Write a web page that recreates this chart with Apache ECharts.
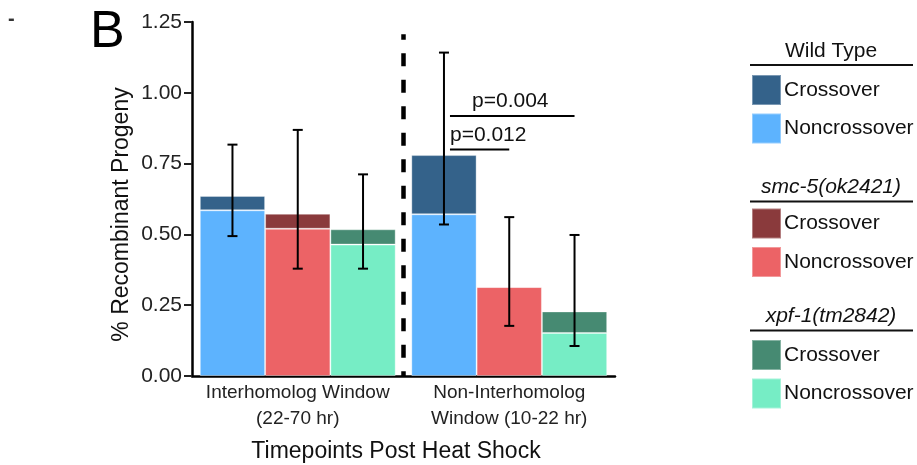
<!DOCTYPE html>
<html>
<head>
<meta charset="utf-8">
<script src="https://cdn.jsdelivr.net/npm/echarts@6/dist/echarts.min.js"></script>
<style>
  html, body { margin: 0; padding: 0; background: #fff; }
  #chart { width: 917px; height: 465px; }
</style>
</head>
<body>
<div id="chart"></div>
<script>
// Time windows after heat shock
const categories = ['Interhomolog Window\n(22-70 hr)', 'Non-Interhomolog\nWindow (10-22 hr)'];
const genotypes = ['Wild Type', 'smc-5(ok2421)', 'xpf-1(tm2842)'];

// Recombinant progeny fractions (stacked: noncrossover below, crossover on top)
const wtNoncrossover  = [0.585, 0.571];
const wtCrossover     = [0.051, 0.209];
const smcNoncrossover = [0.520, 0.314];
const smcCrossover    = [0.053, 0.000];
const xpfNoncrossover = [0.464, 0.152];
const xpfCrossover    = [0.054, 0.076];

// Confidence intervals on the total recombinant fraction
const wtErrLow   = [0.494, 0.535];
const wtErrHigh  = [0.817, 1.142];
const smcErrLow  = [0.379, 0.177];
const smcErrHigh = [0.869, 0.561];
const xpfErrLow  = [0.379, 0.106];
const xpfErrHigh = [0.712, 0.498];

// Y axis range and tick step
const yMin = 0, yMax = 1.25, yStep = 0.25;

// Significance brackets in the non-interhomolog window
const pLabels  = ['p=0.004', 'p=0.012'];
const pLevels  = [0.918, 0.800];
const pFromBar = [0, 0];
const pToBar   = [2, 1];
const pCategory = 1;

// Colours per genotype: [crossover, noncrossover]
const palette = [
  ['#34628a', '#5db3fe'],
  ['#8a3a3c', '#ec6366'],
  ['#468a72', '#76edc5']
];

const FONT = 'Liberation Sans, Arial, sans-serif';
const GAP = 0.074;           // barCategoryGap as a fraction
const DIVIDER_TOP = 1.207;   // top of dashed separator, in axis units

const chart = echarts.init(document.getElementById('chart'), null, { renderer: 'canvas' });

const nco = [wtNoncrossover, smcNoncrossover, xpfNoncrossover];
const co  = [wtCrossover, smcCrossover, xpfCrossover];
const errLo = [wtErrLow, smcErrLow, xpfErrLow];
const errHi = [wtErrHigh, smcErrHigh, xpfErrHigh];

const barSeries = [];
genotypes.forEach((g, k) => {
  barSeries.push({
    name: g + ' Noncrossover', type: 'bar', stack: 'g' + k,
    data: nco[k], barGap: '0%', barCategoryGap: (GAP * 100) + '%',
    itemStyle: { color: palette[k][1], borderColor: 'rgba(255,255,255,0.35)', borderWidth: 1 },
    z: 2
  });
  barSeries.push({
    name: g + ' Crossover', type: 'bar', stack: 'g' + k,
    data: co[k], barGap: '0%', barCategoryGap: (GAP * 100) + '%',
    itemStyle: { color: palette[k][0], borderColor: 'rgba(255,255,255,0.35)', borderWidth: 1 },
    z: 2
  });
});

function barCenterX(api, cat, slot) {
  const c = api.coord([cat, 0]);
  const band = api.size([1, 0])[0];
  const barW = band * (1 - GAP) / genotypes.length;
  return c[0] + (slot - (genotypes.length - 1) / 2) * barW;
}

const errorData = [];
genotypes.forEach((g, k) => {
  categories.forEach((c, i) => errorData.push([i, errLo[k][i], errHi[k][i], k]));
});

const errorSeries = {
  type: 'custom', name: 'errors', z: 5,
  data: errorData,
  encode: { x: 0, y: [1, 2] },
  renderItem: function (params, api) {
    const cat = api.value(0), slot = api.value(3);
    const x = barCenterX(api, cat, slot);
    const yLo = api.coord([cat, api.value(1)])[1];
    const yHi = api.coord([cat, api.value(2)])[1];
    const cap = 5;
    const st = { stroke: '#000', lineWidth: 2 };
    return {
      type: 'group',
      children: [
        { type: 'line', shape: { x1: x, y1: yLo, x2: x, y2: yHi }, style: st },
        { type: 'line', shape: { x1: x - cap, y1: yHi, x2: x + cap, y2: yHi }, style: st },
        { type: 'line', shape: { x1: x - cap, y1: yLo, x2: x + cap, y2: yLo }, style: st }
      ]
    };
  }
};

const dividerSeries = {
  type: 'custom', name: 'divider', z: 4,
  data: [[0, 0]],
  renderItem: function (params, api) {
    const a = api.coord([0, 0]);
    const b = api.coord([1, 0]);
    const x = (a[0] + b[0]) / 2;
    const top = api.coord([0, DIVIDER_TOP])[1];
    return {
      type: 'line',
      shape: { x1: x, y1: top, x2: x, y2: a[1] },
      style: { stroke: '#000', lineWidth: 4.5, lineDash: [13, 13.5], lineDashOffset: 7.5 }
    };
  }
};

const bracketData = pLabels.map((t, i) => [pCategory, pLevels[i], pFromBar[i], pToBar[i], i]);
const bracketSeries = {
  type: 'custom', name: 'brackets', z: 6,
  data: bracketData,
  encode: { x: 0, y: 1 },
  renderItem: function (params, api) {
    const cat = api.value(0), idx = api.value(4);
    const y = api.coord([cat, api.value(1)])[1];
    const x1 = barCenterX(api, cat, api.value(2)) + 6;
    const x2 = barCenterX(api, cat, api.value(3));
    const centered = idx === 0;
    return {
      type: 'group',
      children: [
        { type: 'line', shape: { x1: x1, y1: y, x2: x2, y2: y }, style: { stroke: '#000', lineWidth: 2 } },
        {
          type: 'text',
          x: centered ? (x1 + x2) / 2 - 2 : x1,
          y: y - 4,
          style: {
            text: pLabels[idx], fill: '#111', font: '21px ' + FONT,
            textAlign: centered ? 'center' : 'left', textVerticalAlign: 'bottom'
          }
        }
      ]
    };
  }
};

function legendFor(k, top) {
  return {
    orient: 'vertical', left: 751, top: top, padding: 0,
    itemWidth: 29, itemHeight: 30, itemGap: 6.5, icon: 'rect',
    selectedMode: false,
    data: [genotypes[k] + ' Crossover', genotypes[k] + ' Noncrossover'],
    formatter: function (n) { return n.slice(genotypes[k].length + 1); },
    textStyle: { fontSize: 21, fontFamily: FONT, color: '#111', padding: [0, 0, 0, -2] }
  };
}

function legendTitle(text, y, italic) {
  return [
    {
      type: 'text', x: 831, y: y,
      style: {
        text: text, fill: '#111', textAlign: 'center', textVerticalAlign: 'middle',
        font: (italic ? 'italic ' : '') + '21px ' + FONT
      }
    },
    {
      type: 'line', shape: { x1: 750, y1: y + 14, x2: 913, y2: y + 14 },
      style: { stroke: '#111', lineWidth: 2 }
    }
  ];
}

const option = {
  backgroundColor: '#fff',
  animation: false,
  grid: { left: 192, right: 302, top: 22, bottom: 89, containLabel: false },
  legend: [legendFor(0, 74), legendFor(1, 207.5), legendFor(2, 339)],
  xAxis: {
    type: 'category', data: categories,
    axisLine: { lineStyle: { color: '#000', width: 2.5 } },
    axisTick: { alignWithLabel: true, length: 5, lineStyle: { color: '#333', width: 2 } },
    axisLabel: { interval: 0, fontSize: 19, fontFamily: FONT, color: '#222', lineHeight: 26, margin: 4 }
  },
  yAxis: {
    type: 'value', min: yMin, max: yMax, interval: yStep,
    axisLine: { show: true, lineStyle: { color: '#000', width: 2.5 } },
    axisTick: { show: true, length: 8, lineStyle: { color: '#222', width: 2 } },
    splitLine: { show: false },
    axisLabel: {
      fontSize: 21, fontFamily: FONT, color: '#222', margin: 10,
      formatter: function (v) { return v.toFixed(2); }
    }
  },
  graphic: [
    { type: 'text', x: 90, y: 33, style: { text: 'B', fill: '#000', font: '52px ' + FONT, textAlign: 'left', textVerticalAlign: 'middle' } },
    { type: 'text', x: 8, y: 19, style: { text: '-', fill: '#333', font: 'bold 20px ' + FONT, textAlign: 'left', textVerticalAlign: 'middle' } },
    { type: 'text', x: 122, y: 214.5, rotation: Math.PI / 2,
      style: { text: '% Recombinant Progeny', fill: '#111', font: '23px ' + FONT, textAlign: 'center', textVerticalAlign: 'middle' } },
    { type: 'text', x: 396, y: 452,
      style: { text: 'Timepoints Post Heat Shock', fill: '#111', font: '23px ' + FONT, textAlign: 'center', textVerticalAlign: 'middle' } }
  ]
    .concat(legendTitle(genotypes[0], 51, false))
    .concat(legendTitle(genotypes[1], 187.5, true))
    .concat(legendTitle(genotypes[2], 316.5, true)),
  series: barSeries.concat([dividerSeries, errorSeries, bracketSeries])
};

chart.setOption(option);
</script>
</body>
</html>
